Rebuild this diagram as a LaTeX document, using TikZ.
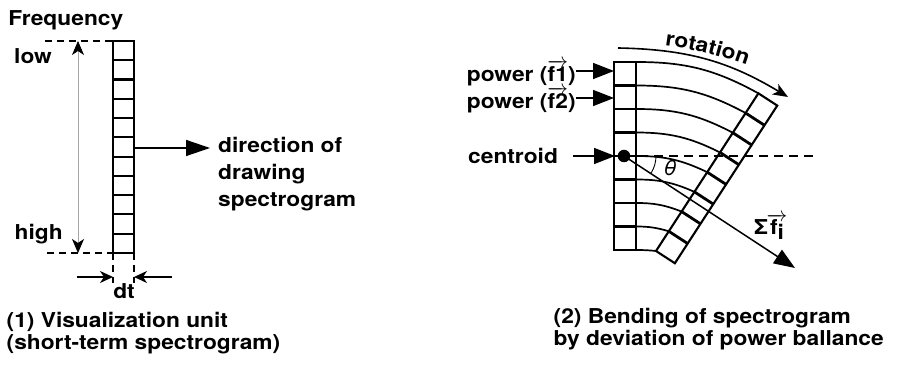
\documentclass[tikz,border=0pt]{standalone}
\usepackage{fontspec}
\setmainfont{TeX Gyre Heros}[FakeStretch=1.11]
\usetikzlibrary{arrows.meta,decorations.text,calc}

\begin{document}
\begin{tikzpicture}[x=1pt,y=1pt,
  lab/.style={font=\fontsize{20.5}{24}\selectfont\bfseries, inner sep=0pt},
  cellline/.style={line width=2.1pt},
  guide/.style={line width=1.3pt, dash pattern=on 7pt off 5pt},
  tri/.style={line width=1.5pt, -{Triangle[length=21pt,width=16pt]}},
  thinarrow/.style={line width=1.3pt, -{Stealth[length=13pt,width=12pt,inset=4pt]}}
]
\useasboundingbox (0,0) rectangle (900,366);

% ---------- (1) visualization unit ----------
\draw[cellline] (113,113) rectangle (134,325);
\foreach \k in {1,...,10}
  \draw[cellline] (113,{113+\k*212/11}) -- (134,{113+\k*212/11});
\coordinate (ltop) at (113,325);
\coordinate (lbot) at (113,113);
\coordinate (rbot) at (134,113);

% frequency range guides
\coordinate (gtop) at (45,325);
\coordinate (gbot) at (47,113);
\draw[guide] (gtop) -- (ltop);
\draw[guide] (gbot) -- (lbot);
\coordinate (flo) at (78,325);
\coordinate (fhi) at (78,113);
\draw[line width=0.8pt, draw=gray!70,
  {Stealth[length=14pt,width=12pt,inset=4pt,black]}-{Stealth[length=14pt,width=12pt,inset=4pt,black]}]
  (fhi) -- (flo);

\node[lab, anchor=base west] (freq) at (8.3,340) {Frequency};
\node[lab, anchor=base west] (low) at (14,302) {low};
\node[lab, anchor=base west] (high) at (14.5,126) {high};

% time width dt
\coordinate (dl) at (113,83);
\coordinate (dr) at (134,83);
\draw[guide] (lbot) -- (dl);
\draw[guide] (rbot) -- (dr);
\coordinate (dla) at (77,89);
\coordinate (dlb) at (113,89);
\coordinate (dra) at (172,89);
\coordinate (drb) at (134,89);
\draw[thinarrow] (dla) -- (dlb);
\draw[thinarrow] (dra) -- (drb);
\node[lab, anchor=base] (dt) at (124,67) {dt};

% drawing direction
\coordinate (dstart) at (134,218);
\coordinate (dtip) at (210,218);
\draw[line width=1.4pt, -{Triangle[length=24pt,width=16pt]}] (dstart) -- (dtip);
\node[lab, anchor=base west] (dir1) at (218,213) {direction of};
\node[lab, anchor=base west] (dir2) at (218,186) {drawing};
\node[lab, anchor=base west] (dir3) at (218,159) {spectrogram};

\node[lab, anchor=base west] (cap1a) at (6.5,38) {(1) Visualization unit};
\node[lab, anchor=base west] (cap1b) at (6.5,16) {(short-term spectrogram)};

% ---------- (2) bending of spectrogram ----------
\draw[cellline] (614,116) rectangle (636,304);
\foreach \k in {1,...,7}
  \draw[cellline] (614,{116+23.5*\k}) -- (636,{116+23.5*\k});

% latest unit, rotated
\begin{scope}[shift={(656,115)}, rotate=-33]
  \draw[cellline] (0,0) rectangle (22.5,188);
  \foreach \k in {1,...,7}
    \draw[line width=2.8pt] (0,{23.5*\k}) -- (22.5,{23.5*\k});
  \foreach \i in {0,...,8}
    \coordinate (e\i) at (0,{188-23.5*\i});
\end{scope}

% bent frequency rows
\foreach \i/\b in {0/14.4,1/14.1,2/13.8,3/13.3,4/12.8,5/12.0,6/10.7,7/8.3,8/2.9}
  \draw[line width=1.7pt] (636,{304-23.5*\i}) to[bend left=\b] (e\i);

% power inputs
\coordinate (c1) at (614,295);
\coordinate (c2) at (614,268);
\node[lab, anchor=base east] (pw1) at (576,284.5) {power ($\overrightarrow{\mbox{f1}}$)};
\node[lab, anchor=base east] (pw2) at (576,257.7) {power ($\overrightarrow{\mbox{f2}}$)};
\draw[tri] (pw1.east |- c1) -- (c1);
\draw[tri] (pw2.east |- c2) -- (c2);

% centroid
\node[circle, fill, inner sep=0pt, minimum size=12.5pt] (cdot) at (624,210) {};
\node[lab, anchor=base west] (cent) at (468,202.7) {centroid};
\coordinate (cin) at (573,210);
\coordinate (cedge) at (615,210);
\draw[tri] (cin) -- (cedge);

\coordinate (hend) at (817,210);
\draw[line width=1.3pt, dash pattern=on 9pt off 6pt] (cdot.center) -- (hend);
\coordinate (stip) at (795,98);
\draw[tri] (cdot.center) -- (stip);
\draw[line width=0.9pt] ($(cdot.center)+(32,0)$) arc[start angle=0, end angle=-33, radius=32];
\node[font=\fontsize{20.5}{24}\selectfont\itshape, inner sep=0pt] (th) at (670,197.5) {θ};
\node[lab, anchor=base west] (sig) at (754,131) {Σ\kern-1.5pt$\overrightarrow{\mbox{f\raisebox{-5pt}{i}}}$};

% rotation
\coordinate (rs) at (618,318);
\coordinate (re) at (788,269);
\draw[line width=1.6pt, -{Stealth[length=15pt,width=12pt,inset=4pt]}] (rs) to[bend left=15] (re);
\path[decorate, decoration={text along path,
  text={|\fontsize{20.5}{24}\selectfont\bfseries|rotation}, text align=center}]
  (635,324) to[bend left=8] (775,290);

\node[lab, anchor=base west] (cap2a) at (553.5,42.7) {(2) Bending of spectrogram};
\node[lab, anchor=base west] (cap2b) at (553.5,20) {by deviation of power ballance};
\end{tikzpicture}
\end{document}
